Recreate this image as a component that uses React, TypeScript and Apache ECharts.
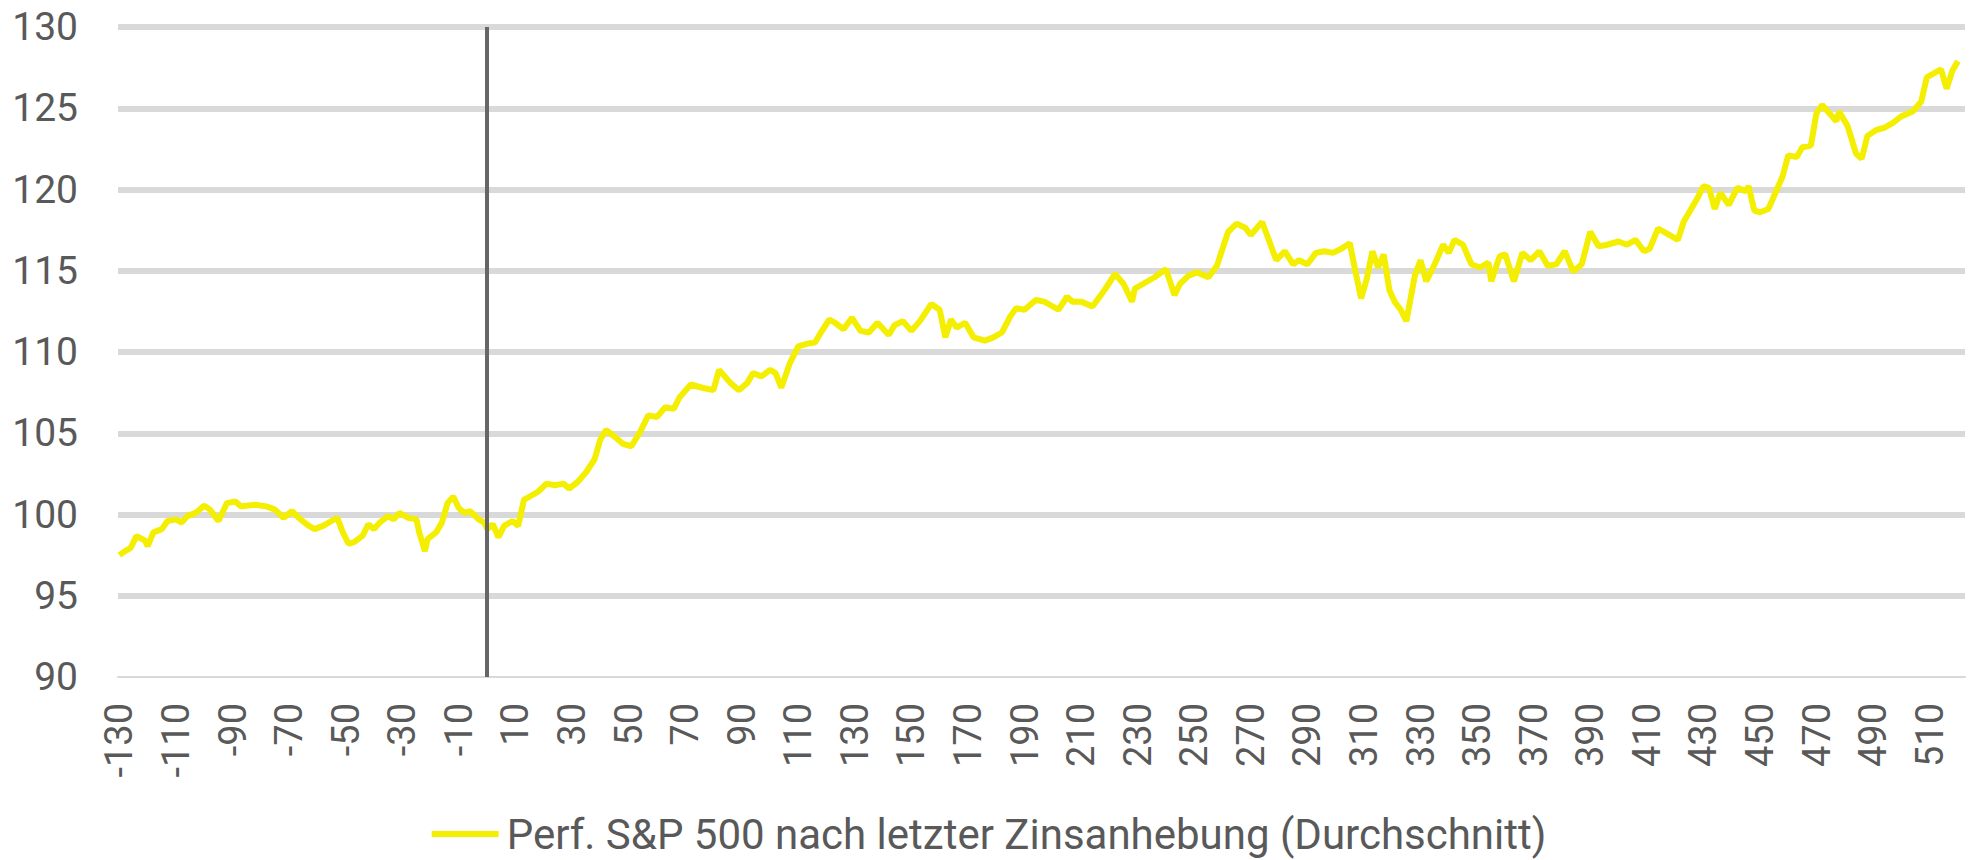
import React, { useEffect, useRef } from "react";
import * as echarts from "echarts";

// x-axis categories: days relative to the last rate hike
const firstDay = -130;
const lastDay = 522;
const categories: string[] = [];
for (let d = firstDay; d <= lastDay; d++) categories.push(String(d));

// y-axis ticks
const yMin = 90;
const yMax = 130;
const yStep = 5;

// series: days and index values
const days = [
  -130, -128, -126, -124, -121, -120, -118, -115, -113, -110, -108, -106, -103, -100, -98, -95, -92, -89, -87, -82,
  -78, -75, -72, -69, -66, -63, -61, -58, -55, -53, -51, -49, -47, -44, -42, -40, -38, -35, -33, -31,
  -28, -25, -24, -22, -21, -18, -16, -14, -12, -10, -8, -6, -3, -1, 0, 2, 4, 6, 9, 11,
  13, 16, 18, 21, 24, 27, 29, 32, 35, 38, 40, 42, 45, 48, 51, 54, 57, 60, 63, 66,
  68, 72, 76, 80, 82, 86, 89, 92, 94, 97, 100, 102, 104, 107, 110, 113, 116, 118, 121, 123,
  126, 129, 132, 135, 138, 142, 144, 147, 150, 153, 157, 160, 162, 164, 166, 169, 172, 176, 179, 182,
  185, 187, 190, 194, 197, 200, 202, 205, 207, 210, 214, 217, 219, 222, 225, 228, 229, 232, 236, 240,
  243, 245, 248, 251, 255, 258, 260, 262, 265, 268, 270, 274, 277, 279, 282, 285, 287, 290, 293, 296,
  299, 302, 305, 307, 309, 311, 313, 315, 317, 319, 321, 323, 325, 328, 330, 332, 335, 338, 340, 342,
  345, 348, 351, 354, 355, 358, 360, 363, 366, 369, 372, 375, 378, 381, 384, 387, 390, 393, 396, 400,
  403, 406, 409, 411, 414, 417, 421, 423, 425, 428, 430, 432, 434, 436, 439, 442, 445, 446, 448, 450,
  453, 455, 458, 460, 463, 465, 468, 470, 472, 474, 477, 478, 481, 484, 486, 488, 491, 494, 497, 500,
  504, 507, 509, 512, 514, 516, 518, 520,
];
const perf = [
  97.5, 97.75, 97.95, 98.67, 98.4, 98.05, 98.9, 99.1, 99.6, 99.7, 99.5, 99.9, 100.1, 100.55, 100.3, 99.6, 100.7, 100.8, 100.5, 100.6,
  100.5, 100.3, 99.8, 100.2, 99.7, 99.3, 99.1, 99.3, 99.6, 99.8, 98.9, 98.2, 98.3, 98.7, 99.4, 99.1, 99.5, 99.9, 99.7, 100.1,
  99.8, 99.7, 98.9, 97.75, 98.5, 98.9, 99.5, 100.7, 101.1, 100.4, 100.1, 100.2, 99.7, 99.5, 99.1, 99.4, 98.6, 99.3, 99.6, 99.3,
  100.9, 101.2, 101.4, 101.9, 101.8, 101.9, 101.6, 102.0, 102.6, 103.4, 104.6, 105.2, 104.8, 104.35, 104.2, 105.05, 106.1, 106.0, 106.6, 106.5,
  107.2, 108.0, 107.8, 107.65, 108.9, 108.1, 107.65, 108.1, 108.7, 108.5, 108.9, 108.7, 107.8, 109.3, 110.35, 110.5, 110.6, 111.2, 112.0, 111.8,
  111.4, 112.1, 111.3, 111.2, 111.8, 111.05, 111.65, 111.9, 111.3, 111.9, 112.95, 112.6, 110.9, 112.0, 111.5, 111.8, 110.9, 110.7, 110.9, 111.2,
  112.2, 112.7, 112.6, 113.2, 113.1, 112.8, 112.6, 113.4, 113.1, 113.1, 112.8, 113.5, 114.0, 114.8, 114.2, 113.1, 113.9, 114.2, 114.6, 115.1,
  113.5, 114.2, 114.7, 114.9, 114.6, 115.3, 116.35, 117.4, 117.9, 117.65, 117.2, 118.0, 116.6, 115.65, 116.2, 115.4, 115.65, 115.4, 116.1, 116.2,
  116.1, 116.35, 116.7, 114.95, 113.3, 114.5, 116.2, 115.2, 116.0, 113.8, 113.05, 112.6, 111.9, 114.7, 115.65, 114.35, 115.4, 116.6, 116.1, 116.9,
  116.6, 115.4, 115.2, 115.5, 114.35, 115.9, 116.0, 114.35, 116.1, 115.65, 116.2, 115.3, 115.4, 116.2, 114.95, 115.4, 117.4, 116.5, 116.6, 116.8,
  116.6, 116.9, 116.2, 116.35, 117.6, 117.3, 116.9, 118.0, 118.6, 119.5, 120.2, 120.1, 118.8, 119.8, 119.05, 120.1, 119.9, 120.2, 118.7, 118.6,
  118.8, 119.6, 120.8, 122.1, 122.0, 122.6, 122.7, 124.7, 125.2, 124.8, 124.2, 124.8, 123.9, 122.2, 121.9, 123.3, 123.65, 123.8, 124.1, 124.5,
  124.8, 125.4, 126.9, 127.2, 127.4, 126.2, 127.3, 127.9,
];

const seriesName = "Perf. S&P 500 nach letzter Zinsanhebung (Durchschnitt)";
const markerDay = "0";

const FONT = "Roboto, 'Open Sans', sans-serif";
const TEXT = "#595959";
const YELLOW = "#f4ee00";

export default function App() {
  const ref = useRef<HTMLDivElement>(null);
  useEffect(() => {
    if (!ref.current) return;
    const chart = echarts.init(ref.current, undefined, { renderer: "svg" });
    const data = days.map((d, i) => [String(d), perf[i]]);
    chart.setOption({
      animation: false,
      backgroundColor: "#ffffff",
      grid: { left: 118, right: 13, top: 27, bottom: 183, containLabel: false },
      legend: {
        show: true,
        left: "center",
        top: 812,
        icon: "rect",
        itemWidth: 67,
        itemHeight: 6,
        itemGap: 10,
        padding: 0,
        textStyle: { fontFamily: FONT, fontSize: 42, color: TEXT, lineHeight: 44, padding: [0, 0, 0, 3] },
        data: [{ name: seriesName, icon: "rect", itemStyle: { color: YELLOW } }],
      },
      xAxis: {
        type: "category",
        data: categories,
        boundaryGap: true,
        axisLine: { show: true, lineStyle: { color: "#d9d9d9", width: 2 } },
        axisTick: { show: false },
        splitLine: { show: false },
        axisLabel: {
          interval: 19,
          rotate: 90,
          margin: 26,
          fontFamily: FONT,
          fontSize: 38,
          color: TEXT,
        },
      },
      yAxis: {
        type: "value",
        min: yMin,
        max: yMax,
        interval: yStep,
        axisLine: { show: false },
        axisTick: { show: false },
        splitLine: { show: true, showMinLine: false, lineStyle: { color: "#d9d9d9", width: 6 } },
        axisLabel: { margin: 40, fontFamily: FONT, fontSize: 39, color: TEXT },
      },
      series: [
        {
          name: seriesName,
          type: "line",
          data,
          showSymbol: false,
          symbol: "none",
          lineStyle: { color: YELLOW, width: 6 },
          itemStyle: { color: YELLOW },
          markLine: {
            silent: true,
            symbol: "none",
            label: { show: false },
            lineStyle: { color: "#666666", width: 4, type: "solid" },
            data: [{ xAxis: markerDay }],
          },
        },
      ],
    });
    return () => chart.dispose();
  }, []);
  return (
    <div
      ref={ref}
      style={{ position: "absolute", left: 0, top: 0, width: 1978, height: 860, background: "#fff" }}
    />
  );
}
